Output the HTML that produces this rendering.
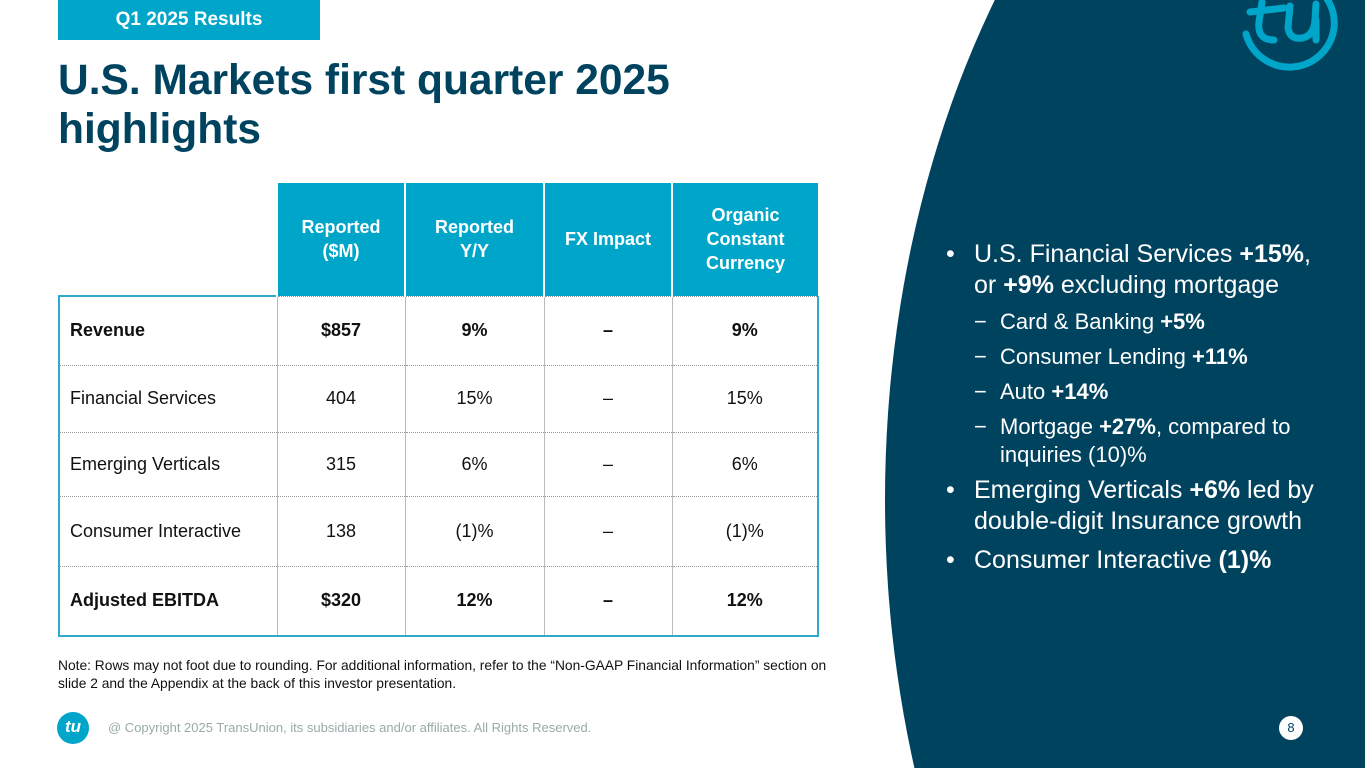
<!DOCTYPE html>
<html><head><meta charset="utf-8"><style>
html,body{margin:0;width:1365px;height:768px;overflow:hidden}
body{background:#fff;font-family:"Liberation Sans",Arial,sans-serif;position:relative}
.abs{position:absolute}
table{border-collapse:collapse;position:absolute;left:58px;top:183px;font-size:18px;color:#111}
td,th{padding:0;text-align:center}
th{background:#00a6ca;color:#fff;font-weight:bold;font-size:18px;line-height:24px;border-left:2px solid #fff}
td{border-left:1px solid #bbb;border-top:1px dotted #999}
td.l{text-align:left;padding-left:10px;border-left:2px solid #2fa9cc}
td.r{border-right:2px solid #2fa9cc}
tr.last td{border-bottom:2px solid #2fa9cc}
.b td{font-weight:bold}
</style></head><body>
<svg class="abs" style="left:0;top:0" width="1365" height="768">
<ellipse cx="1505" cy="500" rx="620" ry="880" fill="#00435f"/>
<g fill="none" stroke="#00a6ca" stroke-width="7" stroke-linecap="round">
<path d="M1246 34 A45 45 0 0 0 1334 28 A45 45 0 0 0 1325 -4"/>
<path d="M1262 2 L1259 22 Q1257 40 1274 40 M1250 12 L1284 8 M1290 6 L1288 28 Q1290 40 1302 38 Q1314 36 1315 20 L1316 4 M1316 20 L1316 40"/>
</g>
</svg>
<div class="abs" style="left:58px;top:0;width:262px;height:40px;background:#00a6ca;color:#fff;font-weight:bold;font-size:19px;line-height:40px;text-align:center">Q1 2025 Results</div>
<div class="abs" style="left:58px;top:56px;font-size:42.5px;font-weight:bold;color:#00435f;line-height:49px;white-space:nowrap">U.S. Markets first quarter 2025<br>highlights</div>
<table>
<tr style="height:113px"><th style="width:217px;background:#fff;border:none"></th><th style="width:126px">Reported<br>($M)</th><th style="width:137px">Reported<br>Y/Y</th><th style="width:126px">FX Impact</th><th style="width:145px">Organic<br>Constant<br>Currency</th></tr>
<tr class="b" style="height:69px"><td class="l" style="border-top:2px solid #2fa9cc">Revenue</td><td>$857</td><td>9%</td><td>–</td><td class="r">9%</td></tr>
<tr style="height:67px"><td class="l">Financial Services</td><td>404</td><td>15%</td><td>–</td><td class="r">15%</td></tr>
<tr style="height:64px"><td class="l">Emerging Verticals</td><td>315</td><td>6%</td><td>–</td><td class="r">6%</td></tr>
<tr style="height:70px"><td class="l">Consumer Interactive</td><td>138</td><td>(1)%</td><td>–</td><td class="r">(1)%</td></tr>
<tr class="b last" style="height:70px"><td class="l">Adjusted EBITDA</td><td>$320</td><td>12%</td><td>–</td><td class="r">12%</td></tr>
</table>
<div class="abs" style="left:58px;top:657px;font-size:13.8px;line-height:18px;color:#111;white-space:nowrap">Note: Rows may not foot due to rounding. For additional information, refer to the “Non-GAAP Financial Information” section on<br>slide 2 and the Appendix at the back of this investor presentation.</div>
<div class="abs" style="left:946px;top:239px;color:#fff;font-size:25px;line-height:31px;white-space:nowrap">
<div style="position:relative;padding-left:28px"><span class="abs" style="left:0">•</span>U.S. Financial Services <b>+15%</b>,<br>or <b>+9%</b> excluding mortgage</div>
<div style="font-size:22px;line-height:35px;padding-left:28px;margin-top:3px">
<div style="position:relative;padding-left:26px"><span class="abs" style="left:0">−</span>Card &amp; Banking <b>+5%</b></div>
<div style="position:relative;padding-left:26px"><span class="abs" style="left:0">−</span>Consumer Lending <b>+11%</b></div>
<div style="position:relative;padding-left:26px"><span class="abs" style="left:0">−</span>Auto <b>+14%</b></div>
<div style="position:relative;padding-left:26px;line-height:28px;margin-top:4px"><span class="abs" style="left:0">−</span>Mortgage <b>+27%</b>, compared to<br>inquiries (10)%</div>
</div>
<div style="position:relative;padding-left:28px;margin-top:6px"><span class="abs" style="left:0">•</span>Emerging Verticals <b>+6%</b> led by<br>double-digit Insurance growth</div>
<div style="position:relative;padding-left:28px;margin-top:8px"><span class="abs" style="left:0">•</span>Consumer Interactive <b>(1)%</b></div>
</div>
<div class="abs" style="left:57px;top:712px;width:32px;height:32px;border-radius:50%;background:#00a6ca;color:#fff;font-size:17px;font-style:italic;font-weight:bold;line-height:30px;text-align:center">tu</div>
<div class="abs" style="left:108px;top:720px;font-size:13px;color:#9aa;white-space:nowrap">@ Copyright 2025 TransUnion, its subsidiaries and/or affiliates.  All Rights Reserved.</div>
<div class="abs" style="left:1279px;top:716px;width:24px;height:24px;border-radius:50%;background:#fff;color:#00435f;font-size:13px;line-height:24px;text-align:center">8</div>
</body></html>
